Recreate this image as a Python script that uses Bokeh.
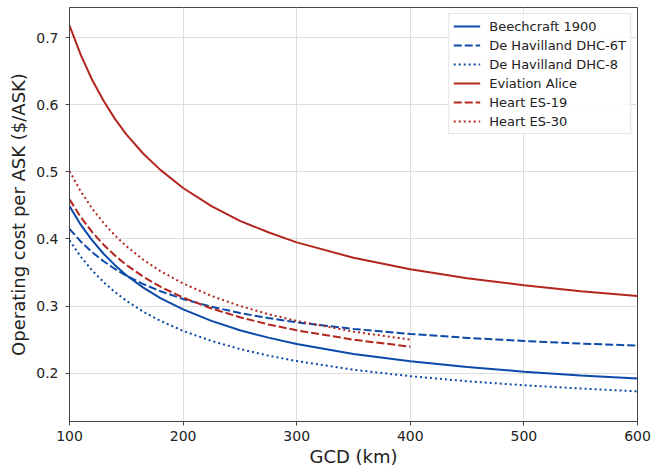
from bokeh.plotting import figure
from bokeh.models import FixedTicker, Legend, LegendItem
from bokeh.embed import file_html
from bokeh.resources import INLINE

# ---- data ----
gcd = [100, 110, 120, 130, 140, 150, 165, 180, 200, 225, 250, 275, 300, 350, 400, 450, 500, 550, 600]
gcd_heart = [100, 110, 120, 130, 140, 150, 165, 180, 200, 225, 250, 275, 300, 350, 400]

beechcraft_1900 = [0.449, 0.421, 0.398, 0.378, 0.361, 0.346, 0.3275, 0.312, 0.295, 0.278, 0.264, 0.253,
                   0.2434, 0.2287, 0.2177, 0.2091, 0.2023, 0.1967, 0.192]
dhc_6t = [0.415, 0.396, 0.3802, 0.3668, 0.3553, 0.3454, 0.3327, 0.3222, 0.3106, 0.299, 0.2897, 0.2821,
          0.2758, 0.2659, 0.2584, 0.2526, 0.248, 0.2442, 0.241]
dhc_8 = [0.398, 0.3735, 0.353, 0.3357, 0.3209, 0.308, 0.2916, 0.278, 0.263, 0.248, 0.236, 0.2262,
         0.218, 0.2051, 0.1955, 0.188, 0.182, 0.1771, 0.173]
eviation_alice = [0.718, 0.674, 0.637, 0.606, 0.579, 0.556, 0.527, 0.503, 0.476, 0.449, 0.427, 0.410,
                  0.395, 0.372, 0.355, 0.3415, 0.331, 0.322, 0.315]
heart_es19 = [0.459, 0.4324, 0.4102, 0.3915, 0.3754, 0.3614, 0.3437, 0.3289, 0.3127, 0.2964, 0.2834,
              0.2727, 0.2639, 0.2499, 0.2395]
heart_es30 = [0.501, 0.4706, 0.4452, 0.4238, 0.4054, 0.3894, 0.3691, 0.3522, 0.3337, 0.3151, 0.3002,
              0.288, 0.2779, 0.2619, 0.25]

x_ticks = [100, 200, 300, 400, 500, 600]
y_ticks = [0.2, 0.3, 0.4, 0.5, 0.6, 0.7]
x_title = "GCD (km)"
y_title = "Operating cost per ASK ($/ASK)"

BLUE = "#0b4aa8"
RED = "#b3261e"
FONT = "DejaVu Sans"

p = figure(width=652, height=472, x_range=(100, 600), y_range=(0.128, 0.745),
           output_backend="svg", toolbar_location=None,
           min_border_left=69, min_border_right=15, min_border_top=7, min_border_bottom=51)

series = [
    ("Beechcraft 1900", gcd, beechcraft_1900, BLUE, "solid"),
    ("De Havilland DHC-6T", gcd, dhc_6t, BLUE, "8 3"),
    ("De Havilland DHC-8", gcd, dhc_8, BLUE, "2 3"),
    ("Eviation Alice", gcd, eviation_alice, RED, "solid"),
    ("Heart ES-19", gcd_heart, heart_es19, RED, "8 3"),
    ("Heart ES-30", gcd_heart, heart_es30, RED, "2 3"),
]

items = []
for name, xs, ys, col, dash in series:
    r = p.line(xs, ys, line_color=col, line_width=2, line_dash=dash)
    items.append(LegendItem(label=name, renderers=[r]))

legend = Legend(items=items, location="top_right")
legend.label_text_font = FONT
legend.label_text_font_size = "13px"
legend.label_text_color = "#222222"
legend.label_height = 16
legend.glyph_height = 16
legend.glyph_width = 27
legend.label_standoff = 9
legend.spacing = 3
legend.padding = 4
legend.margin = 6
legend.border_line_color = "#cccccc"
legend.border_line_width = 1
legend.background_fill_alpha = 0.85
p.add_layout(legend)

p.xaxis.ticker = FixedTicker(ticks=x_ticks)
p.yaxis.ticker = FixedTicker(ticks=y_ticks)
p.yaxis.major_label_overrides = {t: f"{t:.1f}" for t in y_ticks}

for ax in (p.xaxis[0], p.yaxis[0]):
    ax.major_label_text_font = FONT
    ax.major_label_text_font_size = "14px"
    ax.major_label_text_color = "#222222"
    ax.axis_label_text_font = FONT
    ax.axis_label_text_font_style = "normal"
    ax.axis_label_text_font_size = "18px"
    ax.axis_label_text_color = "#222222"
    ax.axis_line_color = "#444444"
    ax.major_tick_line_color = "#444444"
    ax.major_tick_in = 0
    ax.major_tick_out = 4
    ax.minor_tick_line_color = None

p.xaxis.axis_label = x_title
p.yaxis.axis_label = y_title
p.xaxis.major_label_standoff = 5
p.xaxis.axis_label_standoff = 2
p.yaxis.major_label_standoff = 7
p.yaxis.axis_label_standoff = 4

p.xgrid.ticker = FixedTicker(ticks=x_ticks)
p.ygrid.ticker = FixedTicker(ticks=y_ticks)
p.grid.grid_line_color = "#dddddd"
p.grid.grid_line_width = 1

p.outline_line_color = "#444444"
p.outline_line_width = 1
p.background_fill_color = "white"
p.border_fill_color = "white"

open("out.html", "w").write(file_html(p, INLINE))
